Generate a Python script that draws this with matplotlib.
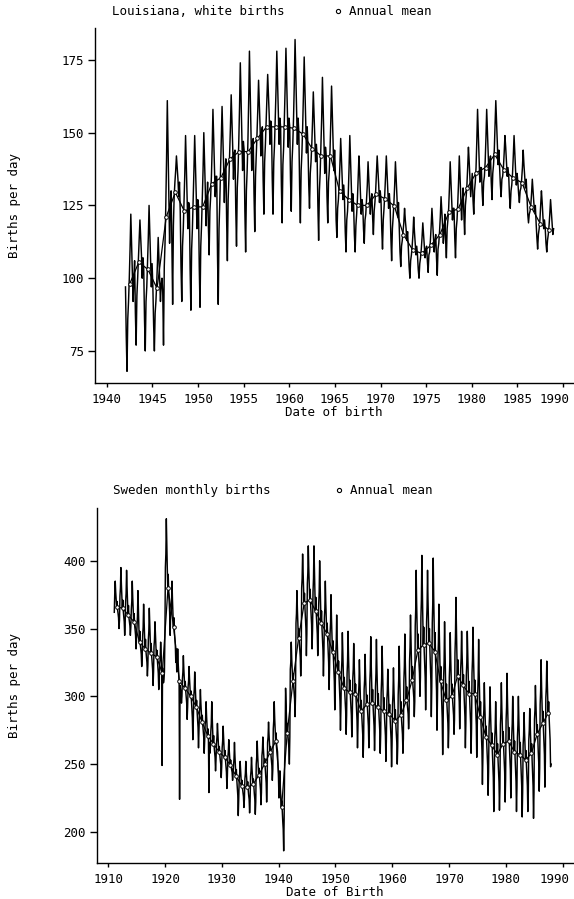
import numpy as np
import matplotlib
matplotlib.use("Agg")
import matplotlib.pyplot as plt
import matplotlib.transforms as mtransforms
from matplotlib.lines import Line2D

plt.rcParams['font.family'] = ['DejaVu Sans Mono']
plt.rcParams['font.size'] = 9

# Louisiana, white births: births per day, one row per year (Jan..Dec), 1942-1988
la_first_year = 1942
la_monthly = [
    [97, 80, 68, 86, 92, 100, 110, 122, 112, 103, 92, 100],
    [106, 88, 77, 94, 100, 107, 113, 120, 114, 108, 100, 107],
    [103, 86, 75, 92, 97, 105, 114, 125, 116, 107, 97, 105],
    [97, 84, 75, 88, 92, 98, 105, 114, 107, 100, 92, 98],
    [100, 95, 77, 104, 112, 125, 141, 161, 145, 129, 112, 125],
    [130, 112, 91, 118, 128, 133, 137, 142, 138, 134, 128, 133],
    [123, 104, 92, 111, 117, 126, 136, 149, 139, 128, 117, 126],
    [125, 103, 89, 110, 117, 127, 137, 149, 139, 129, 117, 127],
    [125, 104, 90, 111, 118, 127, 137, 150, 140, 130, 118, 127],
    [133, 118, 108, 123, 128, 135, 145, 158, 148, 138, 128, 135],
    [135, 108, 91, 117, 126, 137, 147, 159, 149, 139, 126, 137],
    [141, 120, 106, 127, 134, 143, 152, 163, 154, 145, 134, 143],
    [144, 124, 111, 131, 137, 147, 159, 174, 162, 150, 137, 147],
    [144, 123, 109, 130, 137, 147, 161, 178, 164, 150, 137, 147],
    [148, 129, 116, 135, 142, 150, 158, 168, 160, 152, 142, 150],
    [152, 134, 122, 140, 146, 154, 161, 170, 163, 156, 146, 154],
    [152, 134, 122, 140, 146, 155, 165, 178, 168, 157, 146, 155],
    [152, 132, 119, 139, 145, 155, 166, 179, 168, 157, 145, 155],
    [152, 134, 123, 140, 146, 155, 167, 182, 170, 158, 146, 155],
    [150, 131, 119, 137, 143, 152, 163, 176, 165, 155, 143, 152],
    [145, 132, 124, 136, 140, 146, 154, 164, 156, 148, 140, 146],
    [142, 125, 113, 130, 136, 145, 155, 169, 158, 147, 136, 145],
    [142, 128, 119, 133, 137, 144, 154, 166, 156, 147, 137, 144],
    [136, 120, 114, 124, 127, 132, 139, 148, 141, 134, 127, 132],
    [127, 116, 109, 120, 123, 129, 138, 149, 140, 131, 123, 129],
    [125, 115, 109, 118, 122, 127, 134, 142, 136, 129, 122, 127],
    [125, 117, 112, 120, 122, 127, 132, 140, 134, 128, 122, 127],
    [129, 121, 115, 123, 126, 130, 136, 142, 137, 132, 126, 130],
    [127, 117, 110, 120, 124, 129, 135, 142, 136, 130, 124, 129],
    [125, 114, 106, 117, 121, 126, 132, 140, 134, 128, 121, 126],
    [118, 109, 104, 111, 113, 116, 119, 124, 120, 117, 113, 116],
    [110, 104, 100, 106, 108, 111, 115, 121, 116, 112, 108, 111],
    [108, 103, 100, 105, 107, 110, 114, 119, 115, 111, 107, 110],
    [111, 106, 102, 108, 109, 113, 118, 124, 119, 114, 109, 113],
    [115, 107, 101, 110, 112, 116, 121, 128, 123, 118, 112, 116],
    [122, 113, 107, 117, 120, 124, 131, 140, 133, 126, 120, 124],
    [124, 114, 107, 117, 120, 126, 133, 142, 135, 128, 120, 126],
    [131, 122, 115, 125, 128, 132, 138, 145, 140, 134, 128, 132],
    [136, 127, 122, 130, 133, 138, 147, 158, 150, 141, 133, 138],
    [138, 130, 125, 133, 135, 140, 148, 158, 150, 142, 135, 140],
    [142, 133, 127, 136, 139, 144, 152, 161, 154, 146, 139, 144],
    [138, 132, 128, 134, 135, 138, 143, 149, 145, 140, 135, 138],
    [135, 128, 124, 130, 132, 136, 142, 149, 143, 137, 132, 136],
    [133, 129, 126, 130, 131, 134, 138, 144, 139, 135, 131, 134],
    [128, 122, 119, 122, 123, 125, 129, 134, 130, 126, 123, 125],
    [119, 114, 110, 115, 117, 120, 125, 130, 126, 121, 117, 120],
    [117, 112, 109, 113, 115, 118, 122, 127, 123, 119, 115, 117],
]
la_annual_mean = [98, 105.5, 103, 96.5, 121, 129.5, 123, 124.5, 124.5, 132.5,
                  134.5, 141, 143.5, 143.5, 148, 152, 152, 152, 151.5, 149.5,
                  144.5, 142, 142, 130, 127, 125, 125, 128.8, 127.3, 124.8,
                  115, 109.8, 108.5, 111.3, 115, 122.7, 123.8, 131, 136.3, 138,
                  142.5, 137.3, 134.5, 132.8, 124.5, 118.7, 116.5]

# Sweden monthly births: births per day, one row per year (Jan..Dec), 1911-1987
sw_first_year = 1911
sw_monthly = [
    [362, 376, 385, 377, 372, 366, 370, 364, 361, 358, 350, 356],
    [374, 380, 395, 383, 374, 365, 371, 363, 359, 355, 345, 353],
    [370, 376, 393, 380, 370, 360, 367, 358, 355, 352, 345, 351],
    [364, 370, 385, 373, 364, 355, 361, 353, 349, 345, 335, 343],
    [351, 359, 378, 363, 351, 340, 348, 338, 335, 331, 322, 329],
    [345, 351, 368, 355, 345, 335, 342, 333, 329, 325, 315, 323],
    [342, 348, 365, 352, 342, 332, 339, 330, 325, 320, 308, 318],
    [337, 342, 355, 345, 337, 329, 334, 327, 322, 317, 305, 315],
    [324, 328, 340, 331, 324, 249, 321, 314, 310, 312, 318, 345],
    [395, 405, 431, 411, 395, 380, 390, 376, 370, 362, 345, 359],
    [361, 368, 385, 371, 361, 351, 358, 348, 343, 338, 325, 335],
    [318, 323, 335, 325, 318, 311, 224, 308, 305, 302, 295, 300],
    [313, 318, 330, 320, 313, 306, 311, 304, 299, 295, 283, 292],
    [307, 311, 322, 313, 307, 300, 304, 297, 290, 284, 268, 281],
    [300, 305, 318, 308, 300, 292, 297, 289, 283, 277, 262, 274],
    [288, 293, 305, 295, 288, 281, 286, 279, 274, 270, 258, 267],
    [279, 283, 296, 286, 279, 271, 276, 267, 229, 266, 258, 262],
    [274, 280, 296, 284, 274, 265, 271, 263, 259, 255, 245, 253],
    [265, 270, 280, 272, 265, 259, 263, 257, 253, 250, 240, 248],
    [262, 267, 278, 269, 262, 255, 260, 253, 248, 244, 232, 241],
    [255, 259, 268, 260, 255, 249, 253, 248, 246, 244, 238, 242],
    [249, 254, 266, 256, 249, 241, 246, 238, 232, 227, 212, 224],
    [239, 243, 252, 245, 239, 234, 238, 232, 229, 226, 218, 224],
    [239, 243, 252, 244, 239, 233, 237, 231, 227, 224, 214, 222],
    [241, 245, 255, 247, 241, 235, 239, 233, 228, 224, 213, 222],
    [250, 255, 267, 257, 250, 242, 247, 240, 235, 231, 220, 229],
    [256, 260, 270, 262, 256, 250, 254, 247, 242, 236, 222, 233],
    [266, 270, 281, 272, 266, 259, 263, 257, 253, 249, 238, 246],
    [276, 282, 296, 284, 276, 267, 273, 265, 262, 259, 250, 240],
    [225, 230, 245, 232, 225, 218, 223, 215, 208, 202, 186, 210],
    [250, 265, 306, 293, 283, 273, 280, 271, 266, 262, 250, 270],
    [320, 325, 340, 328, 320, 311, 317, 308, 303, 298, 285, 300],
    [354, 361, 378, 364, 354, 343, 350, 340, 335, 329, 315, 326],
    [380, 387, 405, 391, 380, 369, 376, 365, 357, 350, 330, 346],
    [383, 391, 411, 395, 383, 371, 379, 367, 360, 353, 335, 349],
    [377, 387, 411, 392, 377, 363, 373, 360, 353, 346, 330, 343],
    [368, 377, 400, 382, 368, 354, 363, 350, 342, 334, 315, 331],
    [358, 365, 385, 369, 358, 346, 354, 342, 334, 325, 305, 321],
    [346, 354, 375, 358, 346, 333, 341, 329, 320, 311, 290, 307],
    [331, 339, 360, 343, 331, 318, 326, 314, 305, 296, 275, 292],
    [318, 326, 347, 331, 318, 306, 314, 303, 296, 289, 272, 286],
    [317, 326, 348, 330, 317, 303, 312, 300, 293, 286, 270, 283],
    [313, 320, 339, 324, 313, 302, 309, 298, 290, 282, 262, 278],
    [300, 308, 327, 312, 300, 289, 297, 286, 279, 272, 255, 269],
    [305, 312, 331, 316, 305, 294, 301, 291, 284, 278, 262, 275],
    [310, 320, 344, 324, 310, 295, 305, 292, 285, 278, 260, 274],
    [307, 317, 342, 322, 307, 292, 302, 289, 282, 275, 258, 272],
    [303, 313, 337, 318, 303, 289, 299, 285, 278, 271, 252, 267],
    [297, 304, 320, 307, 297, 287, 294, 283, 275, 268, 248, 264],
    [294, 302, 321, 305, 294, 282, 290, 279, 272, 266, 250, 263],
    [301, 312, 337, 317, 301, 286, 296, 283, 278, 272, 258, 269],
    [312, 322, 346, 326, 312, 297, 307, 295, 291, 287, 276, 284],
    [326, 336, 360, 341, 326, 312, 322, 309, 304, 299, 285, 296],
    [352, 364, 393, 369, 352, 334, 346, 331, 324, 317, 300, 314],
    [358, 371, 404, 378, 358, 338, 351, 333, 324, 314, 290, 309],
    [355, 366, 393, 371, 355, 339, 350, 334, 323, 312, 285, 307],
    [354, 368, 402, 374, 354, 333, 347, 327, 316, 304, 275, 298],
    [328, 340, 368, 345, 328, 311, 322, 306, 295, 284, 257, 279],
    [314, 326, 355, 332, 314, 297, 309, 294, 287, 280, 262, 276],
    [314, 324, 347, 328, 314, 300, 309, 297, 292, 286, 272, 283],
    [332, 344, 373, 350, 332, 315, 327, 311, 303, 296, 276, 292],
    [320, 328, 348, 332, 320, 308, 316, 303, 294, 285, 262, 280],
    [316, 325, 348, 330, 316, 302, 311, 298, 289, 280, 258, 276],
    [317, 327, 351, 331, 317, 302, 312, 297, 288, 279, 255, 274],
    [302, 314, 342, 319, 302, 285, 296, 280, 270, 260, 235, 255],
    [282, 290, 310, 294, 282, 270, 278, 266, 257, 249, 227, 244],
    [277, 286, 307, 290, 277, 264, 273, 259, 249, 240, 215, 235],
    [269, 277, 296, 280, 269, 257, 265, 253, 245, 237, 216, 232],
    [279, 288, 310, 292, 279, 265, 274, 261, 252, 244, 222, 239],
    [282, 292, 317, 297, 282, 267, 277, 263, 254, 246, 225, 242],
    [271, 280, 300, 284, 271, 259, 267, 255, 246, 237, 215, 233],
    [270, 279, 300, 283, 270, 257, 266, 252, 243, 234, 211, 229],
    [264, 271, 288, 274, 264, 253, 260, 249, 242, 234, 215, 230],
    [268, 275, 291, 278, 268, 258, 265, 253, 244, 234, 210, 229],
    [283, 290, 308, 294, 283, 272, 279, 268, 259, 251, 230, 247],
    [294, 304, 327, 308, 294, 280, 289, 275, 266, 257, 233, 252],
    [299, 307, 326, 311, 299, 288, 296, 284, 276, 268, 248, 250],
]
sw_annual_mean = [366, 365, 360, 355, 340, 335, 332, 329, 317, 380,
                  351, 311, 306, 300, 292, 281, 271, 265, 259, 255,
                  249, 241, 234, 233, 235, 242, 250, 259, 267, 218,
                  273, 311, 343, 369, 371, 363, 354, 346, 333, 318,
                  306, 303, 302, 289, 294, 295, 292, 289, 287, 282,
                  286, 297, 312, 334, 338, 339, 333, 311, 297, 300,
                  315, 308, 302, 302, 285, 270, 264, 257, 265, 267,
                  259, 257, 253, 258, 272, 280, 288]


def monthly_series(first_year, rows):
    vals = np.array(rows, dtype=float)
    years = first_year + np.arange(vals.shape[0])
    t = (years[:, None] + (np.arange(12)[None, :] + 0.5) / 12.0).ravel()
    return t, vals.ravel()


def draw_panel(ax, first_year, rows, annual, title, xlabel, xticks, yticks,
               xlim, ylim, title_x, title_y, leg_x, ylab_x):
    t, v = monthly_series(first_year, rows)
    ax.plot(t, v, color='black', lw=1.05)
    yrs = first_year + np.arange(len(annual)) + 0.5
    ax.plot(yrs, annual, color='black', lw=0.9, marker='o', ms=2.6,
            mfc='white', mec='black', mew=0.7)

    ax.set_xlim(*xlim)
    ax.set_ylim(*ylim)
    ax.set_xticks(xticks)
    ax.set_yticks(yticks)
    ax.spines['top'].set_visible(False)
    ax.spines['right'].set_visible(False)
    ax.spines['left'].set_linewidth(1.0)
    ax.spines['bottom'].set_linewidth(1.0)
    ax.tick_params(axis='y', direction='out', length=5, width=1.0, pad=3)
    ax.tick_params(axis='x', direction='out', length=3, width=1.0, pad=4)

    # last year label sits on the right edge of the page: nudge it inwards
    last = ax.get_xticklabels()[-1]
    shift = mtransforms.ScaledTranslation(-6 / 72, 0, ax.figure.dpi_scale_trans)
    last.set_transform(last.get_transform() + shift)

    ax.set_ylabel('Births per day')
    ax.yaxis.set_label_coords(ylab_x, 0.5)
    ax.set_xlabel(xlabel, labelpad=0)
    ax.xaxis.set_label_coords(0.5, -0.066)

    ax.text(title_x, title_y, title, transform=ax.transAxes,
            ha='left', va='center')
    handle = Line2D([], [], ls='none', marker='o', ms=3, mfc='white',
                    mec='black', mew=0.8)
    ax.legend([handle], ['Annual mean'], loc='center left',
              bbox_to_anchor=(leg_x, title_y), frameon=False,
              handlelength=0.5, handletextpad=0.6, borderpad=0,
              borderaxespad=0)


fig = plt.figure(figsize=(5.74, 8.99), dpi=100)
ax1 = fig.add_axes([0.1655, 0.574, 0.833, 0.395])
ax2 = fig.add_axes([0.169, 0.040, 0.829, 0.395])

draw_panel(ax1, la_first_year, la_monthly, la_annual_mean,
           'Louisiana, white births', 'Date of birth',
           np.arange(1940, 1991, 5), [75, 100, 125, 150, 175],
           (1938.7, 1991.1), (64, 186), 0.036, 1.045, 0.502, -0.155)
draw_panel(ax2, sw_first_year, sw_monthly, sw_annual_mean,
           'Sweden monthly births', 'Date of Birth',
           np.arange(1910, 1991, 10), [200, 250, 300, 350, 400],
           (1908.0, 1991.8), (177, 439), 0.034, 1.049, 0.503, -0.160)

fig.savefig('out.png', dpi=100)
